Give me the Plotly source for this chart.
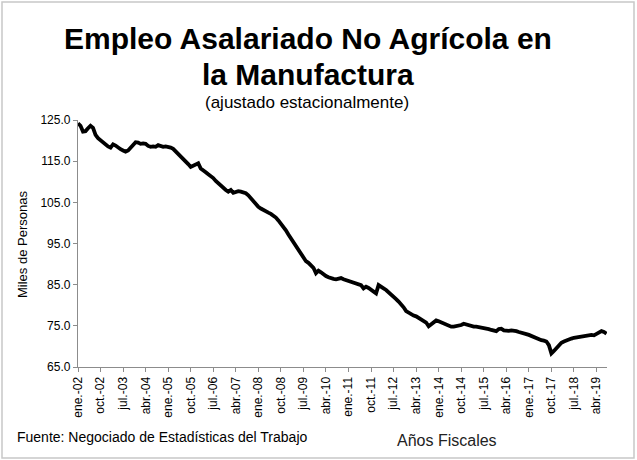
import plotly.graph_objects as go

# Monthly values (thousands of persons), Jan 2002 .. Aug 2019
v2002 = [124.2, 123.6, 122.2, 122.3, 123.0, 123.6, 123.1, 121.4, 120.6, 120.1, 119.4, 118.9]
v2003 = [118.6, 118.3, 119.1, 118.8, 118.3, 117.9, 117.6, 117.3, 117.6, 118.3, 119.0, 119.6]
v2004 = [119.5, 119.2, 119.3, 119.2, 118.7, 118.5, 118.6, 118.5, 118.9, 118.7, 118.5, 118.6]
v2005 = [118.5, 118.3, 118.0, 117.4, 116.9, 116.4, 115.8, 115.2, 114.3, 113.6, 113.9, 114.3]
v2006 = [114.5, 113.2, 112.6, 112.3, 111.8, 111.4, 110.9, 110.2, 109.6, 108.9, 108.4, 108.0]
v2007 = [107.6, 108.0, 107.3, 107.6, 107.7, 107.6, 107.5, 107.2, 106.7, 106.0, 105.2, 104.5]
v2008 = [103.9, 103.5, 103.1, 102.8, 102.5, 102.2, 101.8, 101.3, 100.6, 99.9, 99.1, 98.2]
v2009 = [97.2, 96.3, 95.3, 94.2, 93.2, 92.3, 91.4, 90.7, 90.3, 89.6, 89.1, 87.8]
v2010 = [88.4, 88.0, 87.4, 87.1, 86.8, 86.5, 86.4, 86.3, 86.4, 86.6, 86.3, 86.1]
v2011 = [85.9, 85.7, 85.5, 85.4, 85.3, 84.9, 84.1, 84.5, 84.2, 83.7, 83.3, 82.9]
v2012 = [84.9, 84.6, 84.1, 83.7, 83.2, 82.6, 82.1, 81.5, 80.9, 80.3, 79.5, 78.6]
v2013 = [78.2, 77.8, 77.5, 77.3, 76.9, 76.6, 76.2, 75.8, 74.9, 75.4, 76.0, 76.3]
v2014 = [76.1, 75.8, 75.6, 75.3, 75.0, 74.8, 74.8, 74.9, 75.1, 75.2, 75.5, 75.3]
v2015 = [75.1, 74.9, 74.8, 74.8, 74.7, 74.7, 74.6, 74.4, 74.2, 74.0, 73.8, 73.7]
v2016 = [74.2, 74.3, 73.9, 73.8, 73.8, 73.9, 73.9, 73.7, 73.5, 73.4, 73.2, 73.0]
v2017 = [72.8, 72.5, 72.2, 71.9, 71.6, 71.5, 71.4, 71.2, 70.3, 68.3, 68.9, 69.6]
v2018 = [70.3, 70.9, 71.2, 71.5, 71.7, 71.9, 72.1, 72.2, 72.3, 72.4, 72.6, 72.7]
v2019 = [72.7, 72.8, 72.7, 73.0, 73.3, 73.7, 73.5, 73.1]

values = (v2002 + v2003 + v2004 + v2005 + v2006 + v2007 + v2008 + v2009 + v2010
          + v2011 + v2012 + v2013 + v2014 + v2015 + v2016 + v2017 + v2018 + v2019)

month_names = ["ene.", "feb.", "mar.", "abr.", "may.", "jun.",
               "jul.", "ago.", "sep.", "oct.", "nov.", "dic."]
start_year = 2
categories = [f"{month_names[i % 12]}-{start_year + i // 12:02d}" for i in range(len(values))]
tick_labels = categories[::9]

y_ticks = [65, 75, 85, 95, 105, 115, 125]

FONT = "Liberation Sans, Arial, sans-serif"

fig = go.Figure()
fig.add_trace(go.Scatter(
    x=categories, y=values, mode="lines",
    line=dict(color="black", width=3.8),
    showlegend=False, hoverinfo="skip",
))

axis_color = "#8c8c8c"
fig.update_layout(
    template="none",
    width=637, height=460,
    margin=dict(l=78, r=30, t=120, b=93),
    paper_bgcolor="white", plot_bgcolor="white",
    xaxis=dict(
        type="category", range=[0, len(values) - 0.8], automargin=False,
        tickmode="array", tickvals=tick_labels, ticktext=tick_labels,
        tickangle=-90, ticks="outside", ticklen=4, tickcolor=axis_color, tickwidth=1,
        showline=True, linecolor=axis_color, linewidth=1.3,
        showgrid=False, zeroline=False,
        tickfont=dict(family=FONT, size=12, color="black"),
    ),
    yaxis=dict(
        range=[65, 125], tickvals=y_ticks, tickformat=".1f", automargin=False,
        ticks="outside", ticklen=4, tickcolor=axis_color, tickwidth=1,
        showline=True, linecolor=axis_color, linewidth=1.3,
        showgrid=False, zeroline=False,
        tickfont=dict(family=FONT, size=12, color="black"),
    ),
)

PL, PR, PT, PB = 78, 607, 120, 367

def px2x(px):
    return (px - PL) / float(PR - PL)

def py2y(py):
    return (PB - py) / float(PB - PT)

ann = [
    dict(text="<b>Empleo Asalariado No Agrícola en</b>", x=px2x(308), y=py2y(38),
         font=dict(family=FONT, size=30, color="black")),
    dict(text="<b>la Manufactura</b>", x=px2x(308), y=py2y(74),
         font=dict(family=FONT, size=30, color="black")),
    dict(text="(ajustado estacionalmente)", x=px2x(307), y=py2y(102),
         font=dict(family=FONT, size=17, color="black")),
    dict(text="Miles de Personas", x=px2x(22), y=py2y(245), textangle=-90,
         font=dict(family=FONT, size=13, color="black")),
    dict(text="Fuente: Negociado de Estadísticas del Trabajo", x=px2x(15), y=py2y(437),
         xanchor="left", font=dict(family=FONT, size=14, color="black")),
    dict(text="Años Fiscales", x=px2x(447), y=py2y(440),
         font=dict(family=FONT, size=16, color="#222222")),
]
for a in ann:
    a.setdefault("xanchor", "center")
    a.update(xref="paper", yref="paper", yanchor="middle", showarrow=False)
fig.update_layout(annotations=ann)

fig.add_shape(type="rect", xref="paper", yref="paper",
              x0=px2x(2), x1=px2x(634), y0=py2y(458), y1=py2y(2),
              line=dict(color="#c8c8c8", width=1.5), layer="below")

fig.write_html("out.html",
               config={"displayModeBar": False},
               post_script="document.body.style.margin='0px';document.body.style.overflow='hidden';")
